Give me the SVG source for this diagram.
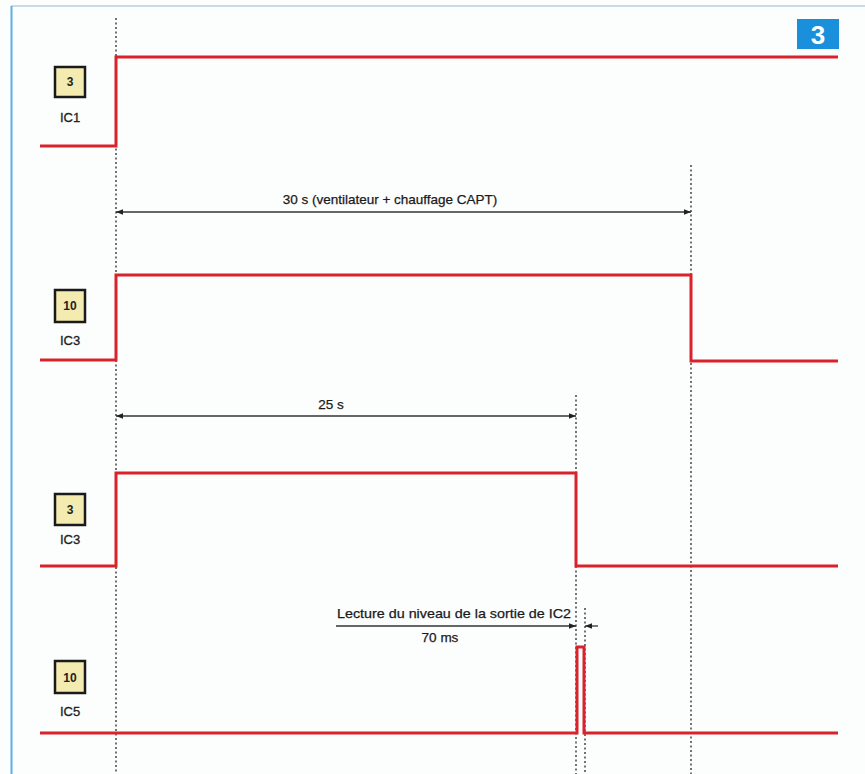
<svg xmlns="http://www.w3.org/2000/svg" width="865" height="774" viewBox="0 0 865 774">
<style>
.sig{fill:none;stroke:#d8232a;stroke-width:3;stroke-linejoin:miter}
.dot{stroke:#444;stroke-width:1.5;stroke-dasharray:2 2.5;fill:none}
.dim{stroke:#333;stroke-width:1.3;fill:none}
.box{fill:#f4ebb0;stroke:#1a1a1a;stroke-width:2.5}
.num{font-family:"Liberation Sans",Arial,sans-serif;font-weight:bold;font-size:12px;fill:#222;text-anchor:middle}
.lbl{font-family:"Liberation Sans",Arial,sans-serif;font-size:13px;fill:#222;stroke:#222;stroke-width:0.3;text-anchor:middle}
.txt{font-family:"Liberation Sans",Arial,sans-serif;font-size:13.5px;fill:#1a1a1a;stroke:#1a1a1a;stroke-width:0.25;text-anchor:middle}
</style>
<defs>
<marker id="ah" viewBox="0 0 10 10" refX="10" refY="5" markerWidth="10" markerHeight="7" orient="auto-start-reverse" markerUnits="userSpaceOnUse">
<path d="M0,1 L10,5 L0,9 Z" fill="#222"/>
</marker>
</defs>
<rect x="0" y="0" width="865" height="774" fill="#fcfdfd"/>
<line x1="11" y1="6" x2="865" y2="6" stroke="#b7cfe0" stroke-width="1.5"/>
<line x1="11.5" y1="6" x2="11.5" y2="774" stroke="#5ab0e4" stroke-width="2"/>
<g id="badge">
<rect x="797" y="19" width="42" height="30" fill="#1a8fdc"/>
<text x="818" y="44" font-family="Liberation Sans,Arial,sans-serif" font-weight="bold" font-size="26" fill="#fff" text-anchor="middle">3</text>
</g>
<g id="guides">
<line class="dot" x1="116" y1="18" x2="116" y2="774"/>
<line class="dot" x1="691" y1="165" x2="691" y2="774"/>
<line class="dot" x1="576" y1="395" x2="576" y2="774"/>
<line class="dot" x1="585" y1="608" x2="585" y2="774"/>
</g>
<g id="connectors">
<line class="dim" x1="116" y1="212" x2="691" y2="212" marker-start="url(#ah)" marker-end="url(#ah)"/>
<line class="dim" x1="116" y1="416" x2="576" y2="416" marker-start="url(#ah)" marker-end="url(#ah)"/>
<line class="dim" x1="336" y1="626" x2="576" y2="626" marker-end="url(#ah)"/>
<line class="dim" x1="598" y1="626" x2="585" y2="626" marker-end="url(#ah)"/>
</g>
<g id="dim-labels">
<text class="txt" x="390" y="204">30 s (ventilateur + chauffage CAPT)</text>
<text class="txt" x="331" y="409">25 s</text>
<text class="txt" x="454" y="618" textLength="234" lengthAdjust="spacingAndGlyphs">Lecture du niveau de la sortie de IC2</text>
<text class="txt" x="440" y="642">70 ms</text>
</g>
<g id="ic1">
<rect class="box" x="55" y="67" width="30" height="30"/>
<text class="num" x="70" y="86">3</text>
<text class="lbl" x="70" y="122">IC1</text>
<polyline class="sig" points="40,146 116,146 116,57 838,57"/>
</g>
<g id="ic3-10">
<rect class="box" x="55" y="290" width="30" height="32"/>
<text class="num" x="70" y="310">10</text>
<text class="lbl" x="70" y="345">IC3</text>
<polyline class="sig" points="40,360 116,360 116,275 691,275 691,361 838,361"/>
</g>
<g id="ic3-3">
<rect class="box" x="55" y="494" width="30" height="31"/>
<text class="num" x="70" y="514">3</text>
<text class="lbl" x="70" y="544">IC3</text>
<polyline class="sig" points="40,566 116,566 116,473 576,473 576,566 838,566"/>
</g>
<g id="ic5">
<rect class="box" x="55" y="661" width="30" height="32"/>
<text class="num" x="70" y="682">10</text>
<text class="lbl" x="70" y="716">IC5</text>
<polyline class="sig" points="40,733 577,733 577,647 584,647 584,733 838,733"/>
</g>
</svg>
